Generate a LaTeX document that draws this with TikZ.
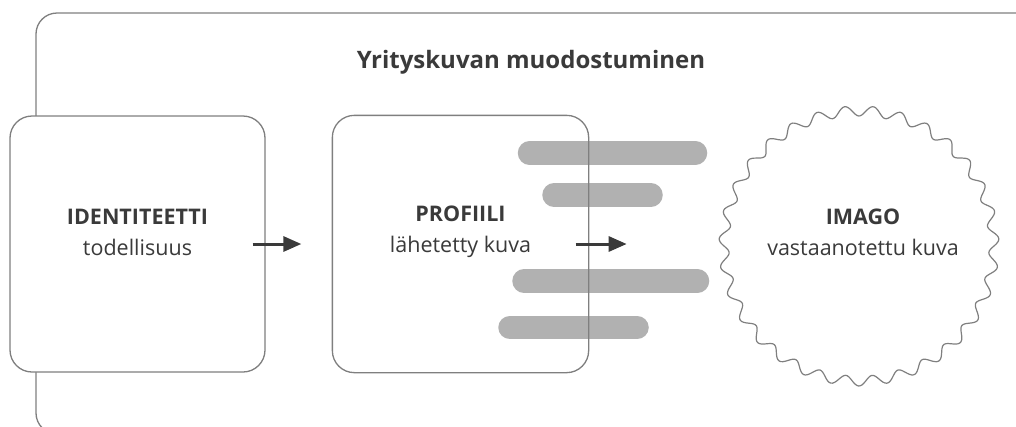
\documentclass[tikz,border=0pt]{standalone}
\usepackage{fontspec}
\setmainfont{Open Sans}
\usetikzlibrary{arrows.meta,positioning}
\definecolor{framegray}{HTML}{7F7F7F}
\definecolor{bargray}{HTML}{B1B1B1}
\definecolor{textgray}{HTML}{3A3A3A}
\tikzset{
  box/.style={draw=framegray, line width=1.3pt, rounded corners=22pt, fill=white,
    minimum width=255pt, minimum height=256pt, inner sep=0pt},
  boxtext/.style={align=center, text=textgray, font=\fontsize{21.5}{31}\selectfont},
  strip/.style={line width=23.5pt, line cap=round, bargray},
  flow/.style={line width=3pt, textgray, -{Triangle[length=18pt,width=15pt]}},
}
\begin{document}
\begin{tikzpicture}[x=1pt,y=-1pt]
\useasboundingbox (0,0) rectangle (1016,426);
\clip (0,0) rectangle (1016,426);

% outer frame
\draw[framegray, line width=1.3pt, rounded corners=21pt] (36,13) rectangle (1045,434);
\node[text=textgray, font=\fontsize{24}{28}\selectfont\bfseries] (title) at (531,62) {Yrityskuvan muodostuminen};

% boxes
\node[box] (ident) at (137.5,244) {};
\node[box, draw=none] (prof) at (460.5,244) {};
\node[boxtext] (identtxt) at (137.5,232) {\textbf{IDENTITEETTI}\\todellisuus};
\node[boxtext] (proftxt) at (460.5,232) {\textbf{PROFIILI}\\lähetetty kuva};

% bars
\foreach \xa/\xb/\yy in {529.5/695.5/153, 554/651/195, 524/697.5/281, 510/637/327.5}
  \draw[strip] (\xa,\yy) -- (\xb,\yy);
\draw[framegray, line width=1.3pt, rounded corners=22pt] (prof.north west) rectangle (prof.south east);

% wavy circle
\node[circle, minimum size=270pt, inner sep=0pt] (imago) at (859,246) {};
\draw[framegray, line width=1.2pt, shift={(imago.center)}]
  plot[smooth, samples=500, domain=0:360, variable=\t] (\t:{135-5*cos(31*(\t-270))}) -- cycle;
\node[boxtext] (imagotxt) at (863,232) {\textbf{IMAGO}\\vastaanotettu kuva};

% arrows
\coordinate (sendtip) at ([xshift=38pt]prof.east);
\draw[flow] ([xshift=-13pt]ident.east) -- ([xshift=-31pt]prof.west);
\draw[flow] ([xshift=-13pt]prof.east) -- (sendtip);

\end{tikzpicture}
\end{document}
